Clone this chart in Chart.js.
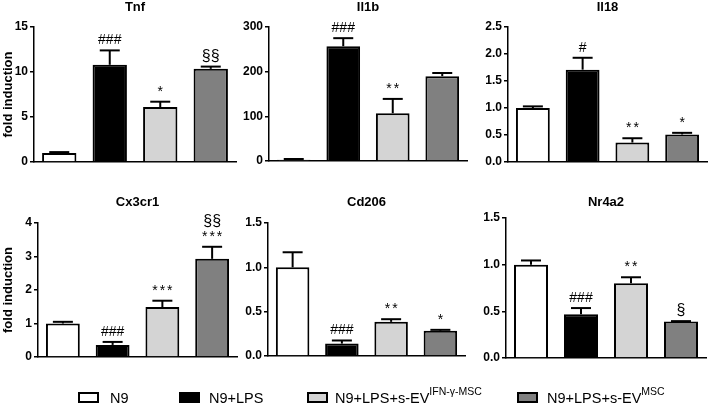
<!DOCTYPE html>
<html>
<head>
<meta charset="utf-8">
<script src="https://cdn.jsdelivr.net/npm/chart.js@4.4.1/dist/chart.umd.min.js"></script>
<style>
html,body{margin:0;padding:0;background:#fff;width:708px;height:406px;overflow:hidden;font-family:"Liberation Sans",Arial,sans-serif;}
.panel{position:absolute;}
.legend{position:absolute;left:0;top:0;width:708px;height:406px;pointer-events:none;}
.box{position:absolute;box-sizing:border-box;border:2px solid #000;}
.lbl{position:absolute;font-size:14.5px;line-height:16px;color:#000;white-space:nowrap;}
.sup{position:relative;top:-8px;font-size:10.5px;}
</style>
</head>
<body>
<div id="root"></div>
<script>
// ---- data ----
const categories = ['N9', 'N9+LPS', 'N9+LPS+s-EV IFN-γ-MSC', 'N9+LPS+s-EV MSC'];
const legendMain = ['N9', 'N9+LPS', 'N9+LPS+s-EV', 'N9+LPS+s-EV'];
const legendSup = ['', '', 'IFN-γ-MSC', 'MSC'];

const tnfMean = [1.0, 10.8, 6.1, 10.35];
const tnfErr = [0.1, 1.6, 0.6, 0.25];
const tnfMarks = [[], ['###'], ['*'], ['§§']];

const il1bMean = [3, 257, 107, 190];
const il1bErr = [1.5, 18, 32, 7];
const il1bMarks = [[], ['###'], ['**'], []];

const il18Mean = [1.0, 1.71, 0.36, 0.51];
const il18Err = [0.03, 0.22, 0.08, 0.03];
const il18Marks = [[], ['#'], ['**'], ['*']];

const cx3cr1Mean = [1.0, 0.36, 1.49, 2.93];
const cx3cr1Err = [0.05, 0.09, 0.19, 0.36];
const cx3cr1Marks = [[], ['###'], ['***'], ['§§', '***']];

const cd206Mean = [1.0, 0.14, 0.385, 0.285];
const cd206Err = [0.17, 0.035, 0.03, 0.01];
const cd206Marks = [[], ['###'], ['**'], ['*']];

const nr4a2Mean = [1.0, 0.47, 0.80, 0.39];
const nr4a2Err = [0.045, 0.065, 0.065, 0.005];
const nr4a2Marks = [[], ['###'], ['**'], ['§']];

const panels = [
  {title: 'Tnf', mean: tnfMean, err: tnfErr, marks: tnfMarks, max: 15, step: 5, dec: 0, yTitle: true},
  {title: 'Il1b', mean: il1bMean, err: il1bErr, marks: il1bMarks, max: 300, step: 100, dec: 0, yTitle: false},
  {title: 'Il18', mean: il18Mean, err: il18Err, marks: il18Marks, max: 2.5, step: 0.5, dec: 1, yTitle: false},
  {title: 'Cx3cr1', mean: cx3cr1Mean, err: cx3cr1Err, marks: cx3cr1Marks, max: 4, step: 1, dec: 0, yTitle: true},
  {title: 'Cd206', mean: cd206Mean, err: cd206Err, marks: cd206Marks, max: 1.5, step: 0.5, dec: 1, yTitle: false},
  {title: 'Nr4a2', mean: nr4a2Mean, err: nr4a2Err, marks: nr4a2Marks, max: 1.5, step: 0.5, dec: 1, yTitle: false}
];

// ---- layout / style ----
const FONT = '"Liberation Sans", Arial, sans-serif';
const barColors = ['#ffffff', '#000000', '#d4d4d4', '#808080'];
const frames = [
  {left: 0,   top: 0,   width: 240, height: 175, L: 34,  T: 27,  R: 236, B: 162, titleY: 7},
  {left: 240, top: 0,   width: 228, height: 175, L: 269, T: 27,  R: 467, B: 161, titleY: 7},
  {left: 468, top: 0,   width: 240, height: 175, L: 508, T: 27,  R: 707, B: 162, titleY: 7},
  {left: 0,   top: 175, width: 240, height: 195, L: 38,  T: 223, R: 237, B: 357, titleY: 202},
  {left: 240, top: 175, width: 228, height: 195, L: 268, T: 223, R: 465, B: 356, titleY: 202},
  {left: 468, top: 175, width: 240, height: 195, L: 506, T: 218, R: 706, B: 358, titleY: 202}
];
const legendBoxX = [78, 179, 307, 517];
const legendTextX = [110, 209, 335, 547];

Chart.defaults.font.family = FONT;

const errPlugin = {
  id: 'errMarks',
  afterDatasetsDraw(chart) {
    const ds = chart.data.datasets[0];
    const meta = chart.getDatasetMeta(0);
    const y = chart.scales.y;
    const ctx = chart.ctx;
    ctx.save();
    ctx.strokeStyle = '#000';
    ctx.lineWidth = 2;
    meta.data.forEach((bar, i) => {
      const top = y.getPixelForValue(ds.data[i] + ds.errors[i]);
      const base = bar.y;
      if (base - top > 0.5) {
        ctx.beginPath(); ctx.moveTo(bar.x, base); ctx.lineTo(bar.x, top); ctx.stroke();
      }
      ctx.beginPath(); ctx.moveTo(bar.x - 10, top); ctx.lineTo(bar.x + 10, top); ctx.stroke();
      const lines = ds.marks[i];
      ctx.fillStyle = '#000';
      ctx.textAlign = 'center';
      ctx.textBaseline = 'alphabetic';
      for (let k = lines.length - 1, row = 0; k >= 0; k--, row++) {
        const t = lines[k];
        const star = t.indexOf('*') >= 0;
        const sect = t.indexOf('§') >= 0;
        ctx.font = (sect ? '16px ' : '14px ') + FONT;
        ctx.letterSpacing = star ? '2px' : '0px';
        ctx.fillText(t, bar.x + (star ? 1 : 0), top - 6 - row * 15);
      }
    });
    ctx.restore();
  }
};

const root = document.getElementById('root');
panels.forEach((p, idx) => {
  const f = frames[idx];
  const wrap = document.createElement('div');
  wrap.className = 'panel';
  wrap.style.left = f.left + 'px';
  wrap.style.top = f.top + 'px';
  wrap.style.width = f.width + 'px';
  wrap.style.height = f.height + 'px';
  const canvas = document.createElement('canvas');
  canvas.width = f.width; canvas.height = f.height;
  canvas.style.width = f.width + 'px'; canvas.style.height = f.height + 'px';
  wrap.appendChild(canvas);
  root.appendChild(wrap);

  const titleSize = 13;
  const titleLH = titleSize * 1.2;
  const padTop = f.titleY - f.top - titleLH / 2;
  const titlePadBottom = (f.T - f.top) - padTop - titleLH;

  new Chart(canvas, {
    type: 'bar',
    data: {
      labels: categories,
      datasets: [{
        data: p.mean, errors: p.err, marks: p.marks,
        backgroundColor: barColors, borderColor: '#000', borderWidth: 2,
        borderSkipped: 'bottom', barPercentage: 0.68, categoryPercentage: 1
      }]
    },
    options: {
      responsive: false, animation: false, devicePixelRatio: 1,
      layout: {padding: {left: 0, top: padTop, right: f.left + f.width - f.R, bottom: f.top + f.height - f.B}},
      plugins: {
        legend: {display: false},
        tooltip: {enabled: false},
        title: {display: true, text: p.title, fullSize: false, color: '#000',
          font: {size: titleSize, weight: 'bold', family: FONT, lineHeight: 1.2},
          padding: {top: 0, bottom: titlePadBottom}}
      },
      scales: {
        x: {
          ticks: {display: false}, grid: {display: false},
          border: {display: true, color: '#000', width: 1.5},
          afterFit(s) { s.height = 0; }
        },
        y: {
          min: 0, max: p.max,
          ticks: {stepSize: p.step, color: '#000', padding: 2,
            font: {size: 12, weight: 'bold', family: FONT},
            callback: v => Number(v).toFixed(p.dec)},
          grid: {drawOnChartArea: false, drawTicks: true, tickLength: 4, color: '#000', lineWidth: 1.5},
          border: {display: true, color: '#000', width: 1.5},
          title: {display: p.yTitle, text: 'fold induction', color: '#000',
            font: {size: 13, weight: 'bold', family: FONT, lineHeight: 1.2}, padding: {top: 1, bottom: 0}},
          afterFit(s) { s.width = f.L - f.left; }
        }
      }
    },
    plugins: [errPlugin]
  });
});

// legend
const lg = document.createElement('div');
lg.className = 'legend';
categories.forEach((c, i) => {
  const b = document.createElement('div');
  b.className = 'box';
  b.style.left = legendBoxX[i] + 'px';
  b.style.top = '392px';
  b.style.width = '21px';
  b.style.height = '11px';
  b.style.background = barColors[i];
  lg.appendChild(b);
  const t = document.createElement('div');
  t.className = 'lbl';
  t.style.left = legendTextX[i] + 'px';
  t.style.top = '390px';
  t.textContent = legendMain[i];
  if (legendSup[i]) {
    const s = document.createElement('span');
    s.className = 'sup';
    s.textContent = legendSup[i];
    t.appendChild(s);
  }
  lg.appendChild(t);
});
document.body.appendChild(lg);
</script>
</body>
</html>
